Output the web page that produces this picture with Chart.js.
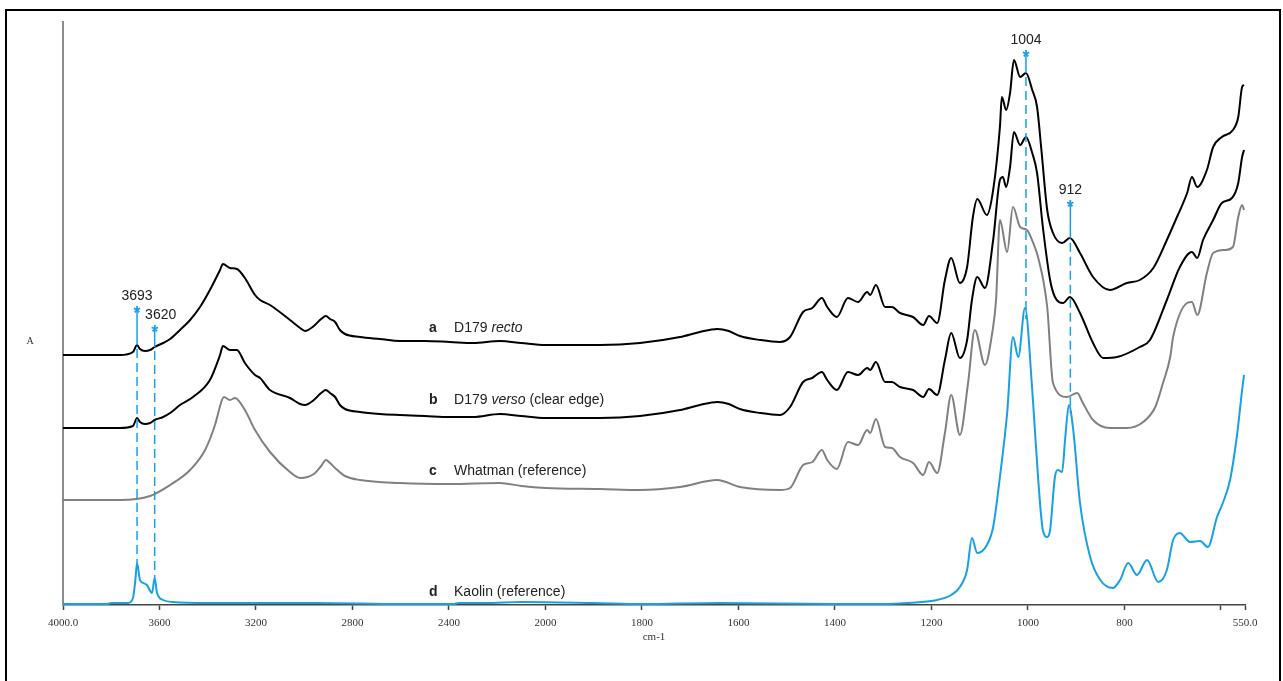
<!DOCTYPE html>
<html>
<head>
<meta charset="utf-8">
<title>FTIR spectra</title>
<script src="https://cdn.jsdelivr.net/npm/chart.js@4.4.0/dist/chart.umd.min.js"></script>
<style>
  html, body { margin: 0; padding: 0; background: #fff; overflow: hidden; }
  #wrap { position: relative; width: 1283px; height: 681px; }
  #myChart { display: block; }
  #frame { position: absolute; left: 5px; top: 9px; width: 1272px; height: 700px;
           border: 2px solid #000; border-bottom: none; pointer-events: none; }
</style>
</head>
<body>
<div id="wrap">
  <canvas id="myChart" width="1283" height="681"></canvas>
  <div id="frame"></div>
</div>
<script>
// wavenumbers (cm-1) and absorbance (arbitrary, offset)

// a: D179 recto
const waveA = [4000, 3764, 3710, 3693, 3681, 3660, 3639, 3620, 3585, 3556,
  3515, 3473, 3432, 3391, 3349, 3337, 3308, 3279, 3246, 3204,
  3183, 3142, 3059, 3017, 2997, 2960, 2930, 2910, 2893, 2872,
  2852, 2831, 2769, 2686, 2603, 2500, 2396, 2300, 2189, 2100,
  2000, 1887, 1804, 1721, 1680, 1644, 1620, 1597, 1555, 1514,
  1493, 1466, 1447, 1427, 1416, 1396, 1373, 1352, 1333, 1327,
  1315, 1296, 1282, 1265, 1238, 1217, 1205, 1188, 1172, 1159,
  1141, 1126, 1114, 1105, 1085, 1072, 1058, 1054, 1045, 1037,
  1029, 1016, 1004, 991, 981, 972, 960, 948, 929, 913,
  892, 865, 830, 795, 768, 740, 712, 691, 670, 660,
  649, 629, 616, 598, 575, 564, 556, 552];
const absA = [2.50, 2.50, 2.53, 2.60, 2.56, 2.54, 2.55, 2.58, 2.62, 2.66,
  2.75, 2.85, 2.98, 3.15, 3.35, 3.41, 3.37, 3.36, 3.27, 3.10,
  3.05, 3.00, 2.85, 2.77, 2.74, 2.79, 2.86, 2.89, 2.86, 2.83,
  2.75, 2.71, 2.68, 2.66, 2.64, 2.64, 2.63, 2.62, 2.64, 2.62,
  2.60, 2.60, 2.62, 2.68, 2.73, 2.76, 2.74, 2.69, 2.65, 2.63,
  2.68, 2.93, 2.97, 3.07, 2.98, 2.88, 3.07, 3.03, 3.13, 3.10,
  3.20, 2.98, 2.98, 2.92, 2.88, 2.80, 2.89, 2.82, 3.25, 3.47,
  3.22, 3.38, 3.88, 4.06, 3.90, 4.15, 4.78, 5.08, 4.95, 5.12,
  5.45, 5.28, 5.32, 5.15, 4.98, 4.55, 3.95, 3.72, 3.62, 3.67,
  3.52, 3.28, 3.15, 3.22, 3.25, 3.37, 3.65, 3.88, 4.12, 4.28,
  4.18, 4.35, 4.58, 4.68, 4.75, 4.88, 5.18, 5.20];

// b: D179 verso (clear edge)
const waveB = [4000, 3764, 3710, 3693, 3681, 3660, 3639, 3620, 3585, 3556,
  3515, 3461, 3391, 3349, 3337, 3308, 3279, 3246, 3204, 3183,
  3142, 3059, 3017, 2997, 2960, 2930, 2910, 2893, 2872, 2852,
  2831, 2769, 2686, 2603, 2500, 2396, 2300, 2189, 2100, 2000,
  1887, 1804, 1721, 1680, 1644, 1620, 1597, 1555, 1514, 1493,
  1466, 1447, 1427, 1416, 1396, 1373, 1352, 1333, 1327, 1315,
  1296, 1282, 1265, 1238, 1217, 1205, 1188, 1172, 1159, 1141,
  1126, 1116, 1105, 1089, 1072, 1058, 1052, 1045, 1037, 1029,
  1016, 1004, 991, 981, 969, 954, 944, 927, 913, 892,
  865, 844, 815, 768, 747, 712, 685, 660, 649, 637,
  616, 598, 577, 564, 556, 552];
const absB = [1.77, 1.77, 1.79, 1.87, 1.83, 1.81, 1.82, 1.85, 1.88, 1.92,
  2.00, 2.08, 2.25, 2.50, 2.59, 2.55, 2.55, 2.42, 2.30, 2.27,
  2.15, 2.07, 2.01, 2.00, 2.05, 2.12, 2.15, 2.12, 2.08, 2.00,
  1.96, 1.93, 1.91, 1.90, 1.89, 1.88, 1.88, 1.91, 1.89, 1.87,
  1.87, 1.89, 1.95, 2.00, 2.03, 2.01, 1.96, 1.92, 1.90, 1.98,
  2.23, 2.27, 2.33, 2.25, 2.15, 2.33, 2.30, 2.37, 2.35, 2.43,
  2.23, 2.23, 2.18, 2.15, 2.08, 2.16, 2.10, 2.45, 2.72, 2.47,
  2.65, 3.05, 3.28, 3.17, 3.65, 4.25, 4.28, 4.18, 4.38, 4.73,
  4.60, 4.68, 4.52, 4.32, 3.78, 3.25, 3.08, 3.02, 3.08, 2.92,
  2.62, 2.47, 2.48, 2.58, 2.65, 3.05, 3.38, 3.53, 3.47, 3.65,
  3.85, 4.02, 4.07, 4.22, 4.48, 4.55];

// c: Whatman (reference)
const waveC = [4000, 3847, 3764, 3639, 3556, 3473, 3411, 3370, 3341, 3333,
  3308, 3287, 3246, 3204, 3142, 3059, 3017, 2960, 2930, 2910,
  2893, 2872, 2831, 2769, 2603, 2396, 2189, 2100, 2000, 1887,
  1804, 1721, 1644, 1597, 1514, 1493, 1466, 1447, 1427, 1416,
  1396, 1373, 1352, 1333, 1327, 1315, 1296, 1282, 1265, 1238,
  1217, 1205, 1188, 1172, 1159, 1141, 1124, 1110, 1089, 1074,
  1066, 1058, 1043, 1031, 1016, 1002, 989, 979, 960, 948,
  919, 898, 886, 865, 830, 795, 761, 736, 720, 705,
  699, 670, 660, 649, 629, 616, 591, 575, 564, 556,
  552];
const absC = [1.05, 1.05, 1.05, 1.09, 1.20, 1.35, 1.55, 1.80, 2.05, 2.08,
  2.05, 2.07, 1.95, 1.75, 1.53, 1.33, 1.27, 1.31, 1.39, 1.45,
  1.42, 1.37, 1.29, 1.25, 1.22, 1.21, 1.22, 1.19, 1.17, 1.16,
  1.15, 1.18, 1.25, 1.18, 1.15, 1.17, 1.40, 1.43, 1.55, 1.45,
  1.36, 1.63, 1.60, 1.75, 1.72, 1.86, 1.58, 1.57, 1.48, 1.42,
  1.30, 1.43, 1.32, 1.72, 2.10, 1.70, 2.22, 2.75, 2.40, 2.72,
  3.05, 3.85, 3.53, 3.98, 3.78, 3.75, 3.62, 3.48, 2.98, 2.22,
  2.08, 2.12, 2.02, 1.85, 1.77, 1.77, 1.83, 1.98, 2.22, 2.48,
  2.68, 3.02, 3.03, 2.90, 3.32, 3.52, 3.55, 3.58, 3.88, 4.00,
  3.95];

// d: Kaolin (reference)
const waveD = [4000, 3818, 3800, 3730, 3710, 3700, 3693, 3681, 3668, 3652,
  3631, 3620, 3610, 3585, 3544, 3400, 3200, 2950, 2600, 2380,
  2360, 2250, 2100, 1900, 1800, 1640, 1400, 1300, 1250, 1200,
  1188, 1159, 1141, 1126, 1116, 1105, 1085, 1072, 1058, 1043,
  1031, 1020, 1006, 991, 979, 969, 960, 954, 944, 938,
  929, 923, 915, 906, 892, 871, 850, 824, 809, 792,
  774, 753, 730, 712, 699, 685, 670, 664, 643, 627,
  608, 596, 581, 566, 556, 552];
const absD = [0.01, 0.01, 0.02, 0.02, 0.07, 0.25, 0.42, 0.25, 0.22, 0.20,
  0.12, 0.27, 0.12, 0.05, 0.03, 0.02, 0.02, 0.02, 0.01, 0.01,
  0.02, 0.02, 0.03, 0.02, 0.01, 0.02, 0.01, 0.01, 0.02, 0.04,
  0.05, 0.10, 0.18, 0.35, 0.67, 0.52, 0.60, 0.78, 1.28, 1.92,
  2.68, 2.48, 2.97, 2.15, 1.28, 0.75, 0.68, 0.75, 1.28, 1.35,
  1.33, 1.65, 2.00, 1.75, 1.02, 0.48, 0.25, 0.17, 0.25, 0.42,
  0.30, 0.45, 0.23, 0.35, 0.65, 0.72, 0.65, 0.63, 0.64, 0.58,
  0.88, 1.02, 1.25, 1.72, 2.15, 2.30];

// x axis ticks
const tickWave = [4000, 3600, 3200, 2800, 2400, 2000, 1800, 1600, 1400, 1200, 1000, 800, 600, 550];
const tickText = ['4000.0', '3600', '3200', '2800', '2400', '2000', '1800', '1600', '1400', '1200', '1000', '800', '', '550.0'];

// marked kaolin bands
const markerWave = [3693, 3620, 1004, 912];
const markerLabel = ['3693', '3620', '1004', '912'];
const markerStar = [2.97, 2.78, 5.53, 4.03];

// curve captions
const tagLetter = ['a', 'b', 'c', 'd'];
const tagParts = [
  [['D179 ', ''], ['recto', 'italic']],
  [['D179 ', ''], ['verso', 'italic'], [' (clear edge)', '']],
  [['Whatman (reference)', '']],
  [['Kaolin (reference)', '']]
];
const tagAbs = [2.73, 2.01, 1.30, 0.09];

const blue = '#17a0e4';

// the axis is expanded 2x below 2000 cm-1
function pos(w) {
  return w >= 2000 ? 4000 - w : 2000 + 2 * (2000 - w);
}

function valueAt(waves, vals, w) {
  for (let i = 0; i < waves.length - 1; i++) {
    if (waves[i] >= w && w >= waves[i + 1]) {
      const t = (waves[i] - w) / (waves[i] - waves[i + 1]);
      return vals[i] + t * (vals[i + 1] - vals[i]);
    }
  }
  return vals[vals.length - 1];
}

function series(label, waves, vals, color, width) {
  return {
    label: label,
    data: waves.map((w, i) => ({ x: pos(w), y: vals[i] })),
    borderColor: color,
    borderWidth: width,
    pointRadius: 0,
    fill: false,
    cubicInterpolationMode: 'monotone'
  };
}

const marks = {
  id: 'marks',
  afterDatasetsDraw(chart) {
    const { ctx, chartArea, scales: { x, y } } = chart;
    ctx.save();

    // "A" on the left
    ctx.fillStyle = '#333';
    ctx.font = '10px "Liberation Serif"';
    ctx.textAlign = 'center';
    ctx.textBaseline = 'middle';
    ctx.fillText('A', chartArea.left - 33, y.getPixelForValue(2.64));

    // band markers
    const shift = [0, 6, 0, 0];
    markerWave.forEach((w, i) => {
      const px = x.getPixelForValue(pos(w));
      const star = y.getPixelForValue(markerStar[i]);
      const top = y.getPixelForValue(valueAt(waveA, absA, w));
      const bottom = y.getPixelForValue(valueAt(waveD, absD, w));
      ctx.strokeStyle = blue;
      ctx.lineWidth = 1.5;
      ctx.setLineDash([]);
      ctx.beginPath();
      ctx.moveTo(px, star + 3);
      ctx.lineTo(px, top);
      ctx.stroke();
      ctx.setLineDash([9, 5]);
      ctx.beginPath();
      ctx.moveTo(px, top + 4);
      ctx.lineTo(px, bottom);
      ctx.stroke();
      ctx.setLineDash([]);

      ctx.textAlign = 'center';
      ctx.textBaseline = 'alphabetic';
      ctx.font = 'bold 18px "Liberation Sans"';
      ctx.fillStyle = blue;
      ctx.fillText('*', px, star + 11);
      ctx.font = '14px "Liberation Sans"';
      ctx.fillStyle = '#222';
      ctx.fillText(markerLabel[i], px + shift[i], star - 8);
    });

    // curve captions
    ctx.textAlign = 'left';
    ctx.textBaseline = 'alphabetic';
    ctx.fillStyle = '#222';
    const letterX = x.getPixelForValue(pos(2483));
    const nameX = x.getPixelForValue(pos(2379));
    tagLetter.forEach((letter, i) => {
      const py = y.getPixelForValue(tagAbs[i]);
      ctx.font = 'bold 14px "Liberation Sans"';
      ctx.fillText(letter, letterX, py);
      let cx = nameX;
      tagParts[i].forEach(([text, style]) => {
        ctx.font = (style + ' 14px "Liberation Sans"').trim();
        ctx.fillText(text, cx, py);
        cx += ctx.measureText(text).width;
      });
    });
    ctx.restore();
  }
};

const ctx = document.getElementById('myChart').getContext('2d');
new Chart(ctx, {
  type: 'line',
  data: {
    datasets: [
      series('a D179 recto', waveA, absA, '#000', 2),
      series('b D179 verso (clear edge)', waveB, absB, '#000', 2),
      series('c Whatman (reference)', waveC, absC, '#808080', 2),
      series('d Kaolin (reference)', waveD, absD, blue, 2)
    ]
  },
  options: {
    responsive: false,
    animation: false,
    devicePixelRatio: 1,
    layout: { padding: { left: 0, top: 22, right: 38, bottom: 33 } },
    plugins: {
      legend: { display: false },
      tooltip: { enabled: false }
    },
    scales: {
      x: {
        type: 'linear',
        min: 0,
        max: pos(550),
        afterBuildTicks: axis => {
          axis.ticks = tickWave.map(w => ({ value: pos(w) }));
        },
        afterFit: axis => { axis.height = 43; },
        grid: { drawOnChartArea: false, drawTicks: true, tickLength: 5, tickColor: '#444', tickWidth: 1.5 },
        border: { display: true, color: '#444', width: 1.5 },
        ticks: {
          autoSkip: false,
          maxRotation: 0,
          padding: 7,
          color: '#333',
          font: { family: 'Liberation Serif', size: 11 },
          callback: (v, i) => tickText[i]
        },
        title: {
          display: true,
          text: 'cm-1',
          color: '#333',
          font: { family: 'Liberation Serif', size: 11 },
          padding: { top: 0, bottom: 4 }
        }
      },
      y: {
        min: 0,
        max: 5.83,
        afterFit: axis => { axis.width = 63; },
        grid: { display: false },
        border: { display: true, color: '#8c8c8c', width: 2 },
        ticks: { display: false }
      }
    }
  },
  plugins: [marks]
});
</script>
</body>
</html>
